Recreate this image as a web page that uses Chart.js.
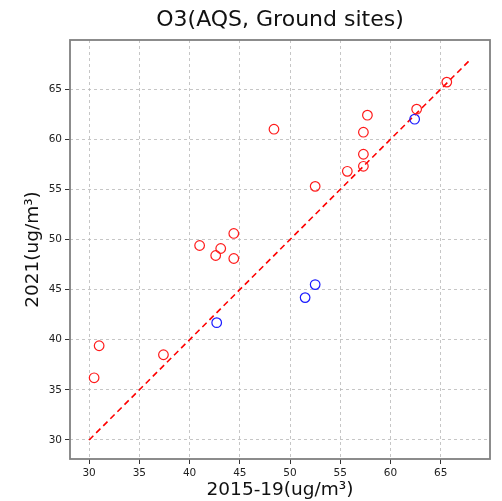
<!DOCTYPE html>
<html>
<head>
<meta charset="utf-8">
<script src="https://cdn.jsdelivr.net/npm/chart.js@4"></script>
<style>
  html, body { margin: 0; padding: 0; background: #fff; }
  #wrap { width: 502px; height: 501px; }
</style>
</head>
<body>
<div id="wrap"><canvas id="o3Chart" width="502" height="501"></canvas></div>
<script>
// site values, 2015-19 mean vs 2021 mean (ug/m3)
const redX = [48.4, 41.0, 43.1, 42.6, 44.4, 44.4, 65.6, 62.6, 57.7, 57.3, 57.3, 57.3, 55.7, 52.5, 31.0, 30.5, 37.4];
const redY = [61.0, 49.4, 49.1, 48.4, 50.6, 48.1, 65.7, 63.0, 62.4, 60.7, 58.5, 57.3, 56.8, 55.3, 39.4, 36.2, 38.5];
const blueX = [62.4, 42.7, 52.5, 51.5];
const blueY = [62.0, 41.7, 45.5, 44.2];
// 1:1 reference line
const lineX = [30, 68];
const lineY = [30, 68];
const xTicks = [30, 35, 40, 45, 50, 55, 60, 65];
const yTicks = [30, 35, 40, 45, 50, 55, 60, 65];

const toPoints = (xs, ys) => xs.map((x, i) => ({ x: x, y: ys[i] }));

const fontFamily = '"DejaVu Sans", sans-serif';

// matplotlib draws a box round the axes, chart.js only draws left/bottom
const framePlugin = {
    id: 'frame',
    afterDraw(chart) {
        const { ctx, chartArea: a } = chart;
        ctx.save();
        ctx.strokeStyle = '#808080';
        ctx.lineWidth = 1.8;
        ctx.strokeRect(a.left, a.top, a.right - a.left, a.bottom - a.top);
        ctx.restore();
    }
};

function axisOpts(ticks, label, isX) {
    return {
        type: 'linear',
        min: 28.1,
        max: 69.9,
        afterBuildTicks: s => { s.ticks = ticks.map(v => ({ value: v })); },
        afterFit: s => {
            if (isX) s.height = 42; else s.width = 70;
        },
        ticks: {
            color: '#222',
            font: { family: fontFamily, size: 10.5 },
            padding: isX ? 3 : 3,
            maxRotation: 0
        },
        grid: {
            color: '#b8b8b8',
            lineWidth: 0.8,
            tickLength: 5,
            tickColor: '#333',
            tickWidth: 1,
            tickBorderDash: [1, 0]
        },
        border: { display: false, dash: [3, 3] },
        title: {
            display: true,
            text: label,
            color: '#111',
            font: { family: fontFamily, size: 18.5 },
            padding: isX ? { top: 0, bottom: 0 } : { top: 22, bottom: 0 }
        }
    };
}

const ctx = document.getElementById('o3Chart').getContext('2d');
new Chart(ctx, {
    type: 'scatter',
    data: {
        datasets: [{
            label: 'ratio',
            data: toPoints(redX, redY),
            pointStyle: 'circle',
            pointRadius: 4.8,
            borderColor: '#ff1a1a',
            backgroundColor: 'rgba(0,0,0,0)',
            borderWidth: 1.2
        }, {
            label: 'low',
            data: toPoints(blueX, blueY),
            pointStyle: 'circle',
            pointRadius: 4.8,
            borderColor: '#1a1aff',
            backgroundColor: 'rgba(0,0,0,0)',
            borderWidth: 1.2
        }, {
            type: 'line',
            label: '1:1',
            data: toPoints(lineX, lineY),
            showLine: true,
            pointRadius: 0,
            borderColor: '#ff0000',
            borderWidth: 1.6,
            borderDash: [6, 4],
            fill: false
        }]
    },
    options: {
        responsive: false,
        animation: false,
        layout: { padding: { left: 0, right: 12, top: 0, bottom: 0 } },
        plugins: {
            legend: { display: false },
            tooltip: { enabled: false },
            title: {
                display: true,
                fullSize: false,
                text: 'O3(AQS, Ground sites)',
                color: '#111',
                font: { family: fontFamily, size: 22, weight: 'normal' },
                padding: { top: 7, bottom: 6.6 }
            }
        },
        scales: {
            x: axisOpts(xTicks, '2015-19(ug/m³)', true),
            y: axisOpts(yTicks, '2021(ug/m³)', false)
        }
    },
    plugins: [framePlugin]
});
</script>
</body>
</html>
